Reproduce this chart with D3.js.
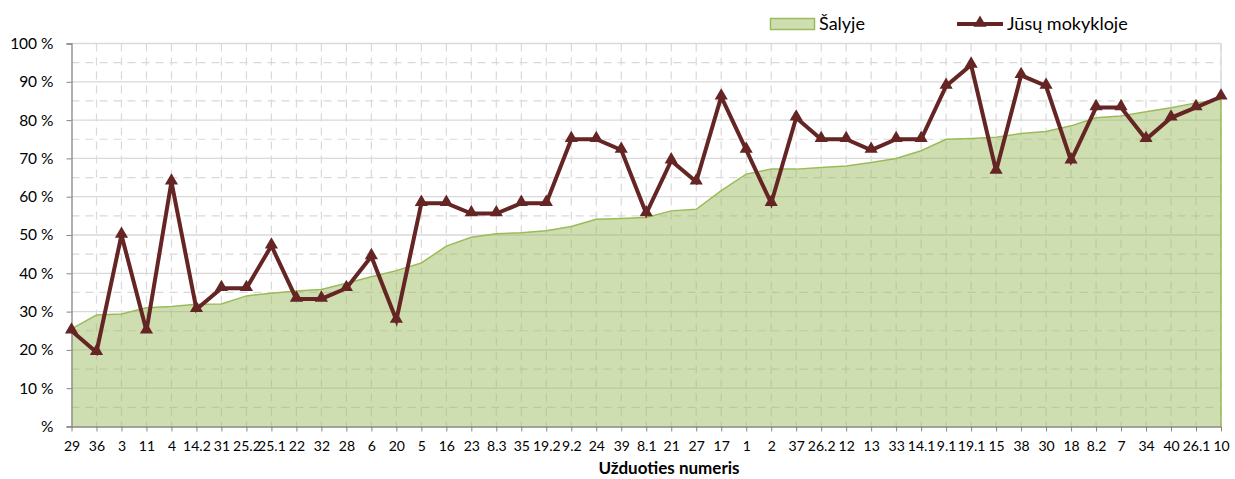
<!DOCTYPE html>
<html>
<head>
<meta charset="utf-8">
<script src="https://cdn.jsdelivr.net/npm/d3@7"></script>
<style>
  body { margin: 0; background: #fff; }
  svg { display: block; font-family: Lato, "Open Sans", sans-serif; }
</style>
</head>
<body>
<div id="chart"></div>
<script>
const categories = ['29', '36', '3', '11', '4', '14.2', '31', '25.2', '25.1', '22', '32', '28', '6', '20', '5', '16',
  '23', '8.3', '35', '19.2', '9.2', '24', '39', '8.1', '21', '27', '17', '1', '2', '37', '26.2', '12', '13', '33',
  '14.1', '9.1', '19.1', '15', '38', '30', '18', '8.2', '7', '34', '40', '26.1', '10']
const salyje = [25.5, 29.1, 29.4, 31.0, 31.3, 31.9, 32.0, 34.1, 34.8, 35.4, 35.8, 37.4, 39.1, 40.7, 42.7, 47.1,
  49.4, 50.3, 50.6, 51.1, 52.2, 54.1, 54.3, 54.6, 56.3, 56.7, 61.6, 65.9, 67.2, 67.2, 67.6, 68.0, 68.9, 70.0,
  72.0, 75.0, 75.2, 75.5, 76.5, 77.0, 78.5, 80.6, 81.1, 82.2, 83.2, 84.5, 85.4]
const mokykloje = [25.0, 19.4, 50.0, 25.0, 63.9, 30.6, 36.1, 36.1, 47.2, 33.3, 33.3, 36.1, 44.4, 27.8, 58.3, 58.3,
  55.6, 55.6, 58.3, 58.3, 75.0, 75.0, 72.2, 55.6, 69.4, 63.9, 86.1, 72.2, 58.3, 80.6, 75.0, 75.0, 72.2, 75.0,
  75.0, 88.9, 94.4, 66.7, 91.7, 88.9, 69.4, 83.3, 83.3, 75.0, 80.6, 83.3, 86.1]
const yTicks = [0, 10, 20, 30, 40, 50, 60, 70, 80, 90, 100]
const yMinor = [5, 15, 25, 35, 45, 55, 65, 75, 85, 95]

const width = 1235
const height = 479
const margin = { top: 43.5, right: 14, bottom: 52.5, left: 71.5 }
const lineColor = '#642524'
const areaStroke = '#9bbb59'
const gridColor = '#d9d9d9'

const svg = d3.select('#chart').append('svg')
  .attr('width', width)
  .attr('height', height)

const x = d3.scalePoint()
  .domain(categories)
  .range([margin.left, width - margin.right])
const y = d3.scaleLinear()
  .domain([0, 100])
  .range([height - margin.bottom, margin.top])

const x0 = margin.left
const x1 = width - margin.right
const y0 = height - margin.bottom
const y1 = margin.top

// minor dashed grid
const grid = svg.append('g')
grid.selectAll('line.hminor')
  .data(yMinor)
  .join('line')
  .attr('x1', x0).attr('x2', x1)
  .attr('y1', d => y(d)).attr('y2', d => y(d))
  .attr('stroke', gridColor)
  .attr('stroke-width', 1.2)
  .attr('stroke-dasharray', '8,6')
grid.selectAll('line.vminor')
  .data(categories.slice(1))
  .join('line')
  .attr('x1', d => x(d)).attr('x2', d => x(d))
  .attr('y1', y0).attr('y2', y1)
  .attr('stroke', gridColor)
  .attr('stroke-width', 1.2)
  .attr('stroke-dasharray', '8,6')
  .attr('stroke-dashoffset', 3)

// major grid
grid.append('g').selectAll('line')
  .data(yTicks.slice(1))
  .join('line')
  .attr('x1', x0).attr('x2', x1)
  .attr('y1', d => y(d)).attr('y2', d => y(d))
  .attr('stroke', gridColor)
  .attr('stroke-width', 1.3)

// Šalyje area
const area = d3.area()
  .x((d, i) => x(categories[i]))
  .y0(y0)
  .y1(d => y(d))
svg.append('path')
  .datum(salyje)
  .attr('d', area)
  .attr('fill', areaStroke)
  .attr('fill-opacity', 0.48)
const areaTop = d3.line()
  .x((d, i) => x(categories[i]))
  .y(d => y(d))
svg.append('path')
  .datum(salyje)
  .attr('d', areaTop)
  .attr('fill', 'none')
  .attr('stroke', areaStroke)
  .attr('stroke-width', 1.5)
svg.append('line')
  .attr('x1', x1).attr('x2', x1)
  .attr('y1', y(salyje[salyje.length - 1])).attr('y2', y0)
  .attr('stroke', areaStroke)
  .attr('stroke-width', 1.5)

// plot border (right side)
svg.append('line')
  .attr('x1', x1).attr('x2', x1)
  .attr('y1', y1).attr('y2', y(salyje[salyje.length - 1]))
  .attr('stroke', gridColor)
  .attr('stroke-width', 1.3)

// axes
const yAxis = d3.axisLeft(y)
  .tickValues(yTicks)
  .tickSize(5)
  .tickFormat(d => d === 0 ? '%' : d + ' %')
const gy = svg.append('g')
  .attr('transform', `translate(${x0},0)`)
  .call(yAxis)
gy.select('.domain').attr('stroke', '#868686').attr('stroke-width', 1.3)
gy.selectAll('.tick line').attr('stroke', '#868686')
gy.selectAll('.tick text')
  .attr('x', -18)
  .attr('font-size', 15.5)
  .attr('font-family', 'Lato, sans-serif')
  .attr('fill', '#000')

const xAxis = d3.axisBottom(x)
  .tickSize(5)
  .tickSizeOuter(0)
const gx = svg.append('g')
  .attr('transform', `translate(0,${y0})`)
  .call(xAxis)
gx.select('.domain').attr('stroke', '#868686').attr('stroke-width', 1.3)
gx.selectAll('.tick line').attr('stroke', '#868686')
gx.selectAll('.tick text')
  .attr('y', 15)
  .attr('font-size', 14)
  .attr('font-family', 'Lato, sans-serif')
  .attr('fill', '#000')

svg.append('text')
  .attr('x', 669)
  .attr('y', 474)
  .attr('text-anchor', 'middle')
  .attr('font-size', 17)
  .attr('font-weight', 'bold')
  .text('Užduoties numeris')

// Jūsų mokykloje line
const line = d3.line()
  .x((d, i) => x(categories[i]))
  .y(d => y(d))
svg.append('path')
  .datum(mokykloje)
  .attr('d', line)
  .attr('fill', 'none')
  .attr('stroke', lineColor)
  .attr('stroke-width', 4)
  .attr('stroke-linejoin', 'miter')
const tri = d3.symbol().type(d3.symbolTriangle).size(75)
svg.append('g').selectAll('path')
  .data(mokykloje)
  .join('path')
  .attr('d', tri)
  .attr('transform', (d, i) => `translate(${x(categories[i])},${y(d) - 1})`)
  .attr('fill', lineColor)

// legend
const legend = svg.append('g').attr('font-size', 18)
legend.append('rect')
  .attr('x', 770.5).attr('y', 18.5)
  .attr('width', 44).attr('height', 11)
  .attr('fill', areaStroke)
  .attr('fill-opacity', 0.48)
  .attr('stroke', areaStroke)
  .attr('stroke-width', 1.5)
legend.append('text')
  .attr('x', 819).attr('y', 30)
  .text('Šalyje')
legend.append('line')
  .attr('x1', 957).attr('x2', 1003)
  .attr('y1', 24).attr('y2', 24)
  .attr('stroke', lineColor)
  .attr('stroke-width', 4)
legend.append('path')
  .attr('d', tri)
  .attr('transform', 'translate(980,23)')
  .attr('fill', lineColor)
legend.append('text')
  .attr('x', 1007).attr('y', 30)
  .text('Jūsų mokykloje')
</script>
</body>
</html>
